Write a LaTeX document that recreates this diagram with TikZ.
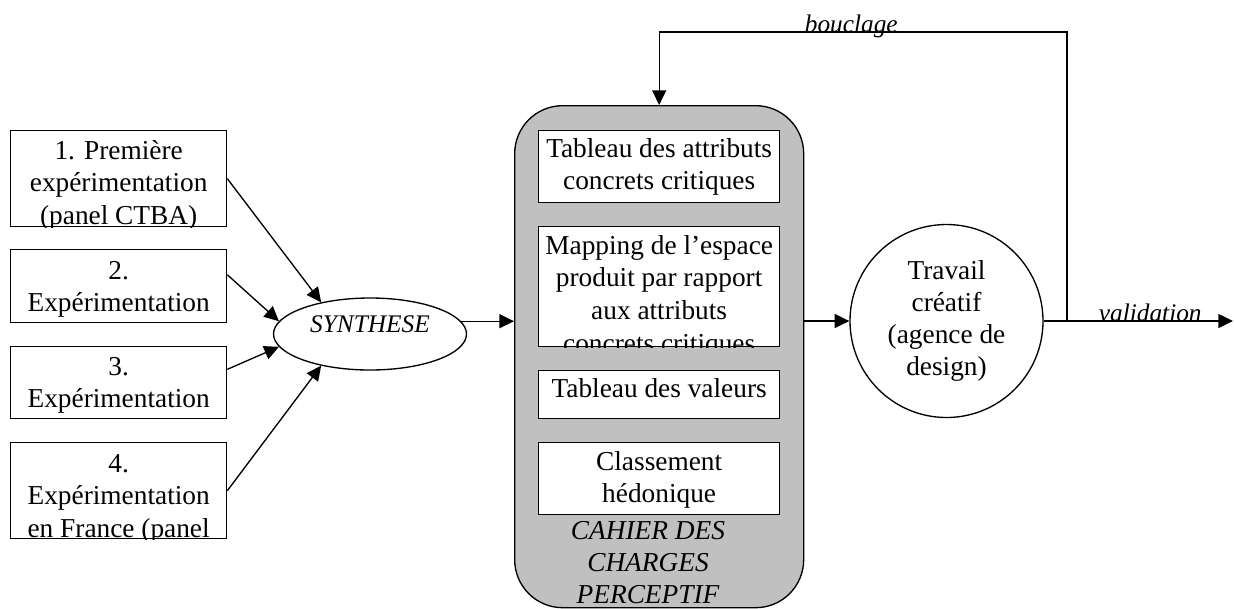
\documentclass[tikz,border=0pt]{standalone}
\usepackage{fontspec}
\setmainfont{Liberation Serif}
\usetikzlibrary{arrows.meta,shapes.geometric,calc}

\definecolor{grisCahier}{RGB}{192,192,192}
\newcommand{\fsTexte}{\fontsize{20.5pt}{24.4pt}\selectfont}
\newcommand{\fsRond}{\fontsize{20.5pt}{24pt}\selectfont}
\newcommand{\fsItal}{\fontsize{19pt}{24pt}\selectfont\itshape}
\newcommand{\fsCahier}{\fontsize{20.5pt}{24pt}\selectfont\itshape}

% text of a box, cut at the box border (#2 = first baseline below the top)
\newcommand{\texteCoupe}[3]{%
  \begin{scope}
    \clip (#1.north west) rectangle (#1.south east);
    \node[texte, anchor=north] (#1-t) at ($(#1.north)+(0,{#2-22})$) {\strut #3};
  \end{scope}}

\tikzset{every picture/.style={line width=1pt}}
\tikzset{
  boite/.style={draw, fill=white, inner sep=0pt, anchor=north west},
  texte/.style={align=center, inner sep=0pt, font=\fsTexte},
  fleche/.style={-{Triangle[length=11pt,width=10.5pt]}},
}

\begin{document}
\begin{tikzpicture}[x=0.75pt,y=0.75pt,yscale=-1,xscale=1]
\useasboundingbox (0,0) rectangle (1234,608);

%Shape: Rectangle [experimentations]
\node[boite, minimum width=162pt, minimum height=72pt] (exp1) at (10,130) {};
\texteCoupe{exp1}{28}{1. Première\\expérimentation\\(panel CTBA)}
\node[boite, minimum width=162pt, minimum height=54.75pt] (exp2) at (10,249) {};
\texteCoupe{exp2}{29}{2.\\Expérimentation}
\node[boite, minimum width=162pt, minimum height=54pt] (exp3) at (10,346) {};
\texteCoupe{exp3}{28}{3.\\Expérimentation}
\node[boite, minimum width=162pt, minimum height=72pt] (exp4) at (10,442) {};
\texteCoupe{exp4}{29}{4.\\Expérimentation\\en France (panel}

%Shape: Ellipse [synthese]
\node[ellipse, draw, minimum width=144.75pt, minimum height=54pt, inner sep=0pt,
  text height=13.5pt, text depth=16.5pt, font=\fsItal] (synth) at (370,334) {SYNTHESE};

%Shape: Rounded Rect [cahier des charges]
\node[draw, fill=grisCahier, rounded corners=36pt, inner sep=0pt, anchor=north west,
  minimum width=216.75pt, minimum height=376.5pt] (cahier) at (514,105) {};
\node[boite, minimum width=180.75pt, minimum height=54pt] (tabA) at (538,130) {};
\texteCoupe{tabA}{26}{Tableau des attributs\\concrets critiques}
\node[boite, minimum width=180.75pt, minimum height=90pt] (mapB) at (538,226) {};
\texteCoupe{mapB}{27}{Mapping de l’espace\\produit par rapport\\aux attributs\\concrets critiques}
\node[boite, minimum width=180.75pt, minimum height=36pt] (tabC) at (538,370) {};
\texteCoupe{tabC}{26}{Tableau des valeurs}
\node[boite, minimum width=180.75pt, minimum height=54pt] (clasD) at (538,442) {};
\texteCoupe{clasD}{27}{Classement\\hédonique}
% Text Node
\node[align=center, inner sep=0pt, font=\fsCahier, anchor=north] (titre) at (648,516) {\strut CAHIER DES\\CHARGES\\PERCEPTIF};

%Shape: Circle [travail creatif]
\node[circle, draw, minimum size=144.75pt, inner sep=0pt, align=center, font=\fsRond] (travail) at (946.5,321)
  {Travail\\créatif\\(agence de\\design)};

\coordinate (fin) at (1233,321);
\coordinate (coin) at (1067,32);

%Arrows
\draw[fleche] (exp1.east) -- (synth.147);
\draw[fleche] (exp2.6) -- (synth.172);
\draw[fleche] (exp3.7) -- (synth.188);
\draw[fleche] (exp4.east) -- (synth.213);
\draw[fleche] (synth.8) -- (synth.8 -| cahier.west);
\draw[fleche] (cahier.east |- travail.west) -- (travail.west);
\draw[fleche] (travail.east) -- (fin) node[pos=0.563, anchor=base, font=\fsItal] (valid) {validation};
\draw[fleche] (coin |- travail.east) -- (coin) -- (coin -| cahier.north)
  node[pos=0.529, anchor=base, font=\fsItal] (boucl) {bouclage} -- (cahier.north);

\end{tikzpicture}
\end{document}
